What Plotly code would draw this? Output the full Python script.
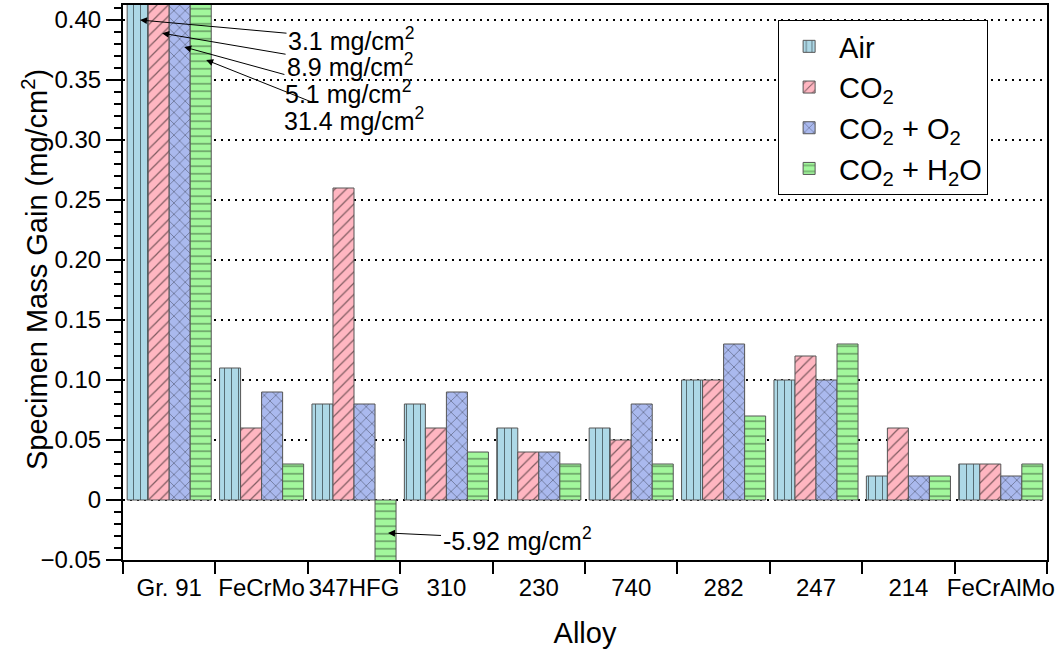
import plotly.graph_objects as go

alloys = ["Gr. 91", "FeCrMo", "347HFG", "310", "230", "740", "282", "247", "214", "FeCrAlMo"]
air = [3.1, 0.11, 0.08, 0.08, 0.06, 0.06, 0.10, 0.10, 0.02, 0.03]
co2 = [8.9, 0.06, 0.26, 0.06, 0.04, 0.05, 0.10, 0.12, 0.06, 0.03]
co2_o2 = [5.1, 0.09, 0.08, 0.09, 0.04, 0.08, 0.13, 0.10, 0.02, 0.02]
co2_h2o = [31.4, 0.03, -5.92, 0.04, 0.03, 0.03, 0.07, 0.13, 0.02, 0.03]

series_names = ["Air", "CO<sub>2</sub>", "CO<sub>2</sub> + O<sub>2</sub>", "CO<sub>2</sub> + H<sub>2</sub>O"]
series_values = [air, co2, co2_o2, co2_h2o]
colors = ["#add8e6", "#ffb6c1", "#aab9ee", "#a2f79c"]
patterns = ["|", "/", "x", "-"]
psizes = [7, 8, 8, 7.5]

y_ticks = [-0.05, 0, 0.05, 0.10, 0.15, 0.20, 0.25, 0.30, 0.35, 0.40]
y_ticktext = ["\u22120.05", "0", "0.05", "0.10", "0.15", "0.20", "0.25", "0.30", "0.35", "0.40"]

FONT = "Liberation Sans, Arial, Helvetica, sans-serif"

fig = go.Figure()
for name, vals, c, p, s in zip(series_names, series_values, colors, patterns, psizes):
    fig.add_trace(go.Bar(
        x=alloys, y=vals, name=name,
        marker=dict(color=c, line=dict(color="#555555", width=1),
                    pattern=dict(shape=p, fgcolor="black", size=s, solidity=0.15, fillmode="overlay")),
    ))

# annotations: (category index offset, y at arrow head, label, ax, ay)
labels = [
    (-0.316, 0.400, "3.1 mg/cm<sup>2</sup>", 211, 19),
    (-0.077, 0.389, "8.9 mg/cm<sup>2</sup>", 188, 32),
    (0.162, 0.3775, "5.1 mg/cm<sup>2</sup>", 164, 45),
    (0.400, 0.3667, "31.4 mg/cm<sup>2</sup>", 148, 59),
    (2.368, -0.0275, "-5.92 mg/cm<sup>2</sup>", 129, 6),
]
for xi, yi, txt, ax, ay in labels:
    fig.add_annotation(x=xi, y=yi, xref="x", yref="y", text=txt, showarrow=True,
                       ax=ax, ay=ay, arrowhead=2, arrowsize=1.4, arrowwidth=1,
                       arrowcolor="black", font=dict(size=25, color="black", family=FONT))

# y-axis title placed as rotated text
fig.add_annotation(text="Specimen Mass Gain (mg/cm<sup>2</sup>)", xref="paper", yref="paper",
                   x=-0.0952, y=0.5225, xanchor="center", yanchor="middle", textangle=-90,
                   showarrow=False, font=dict(size=29, color="black", family=FONT))

fig.update_layout(
    width=1058, height=649,
    margin=dict(l=123, r=11, t=5, b=89),
    paper_bgcolor="white", plot_bgcolor="white",
    barmode="group", bargap=0.09, bargroupgap=0,
    font=dict(family=FONT, color="black", size=24),
    legend=dict(x=0.709, y=0.973, xanchor="left", yanchor="top",
                bordercolor="black", borderwidth=1, bgcolor="white",
                font=dict(size=29, family=FONT), tracegroupgap=0, itemwidth=50),
    showlegend=True,
)
fig.update_xaxes(
    type="category", showline=True, mirror=True, linecolor="black", linewidth=2,
    ticks="outside", tickson="boundaries", ticklen=12, tickwidth=2, tickcolor="black",
    tickfont=dict(size=24), tickangle=0, ticklabelstandoff=5, showgrid=False, automargin=False,
    title=dict(text="Alloy", font=dict(size=29), standoff=26),
)
fig.update_yaxes(
    range=[-0.05, 0.4125], showline=True, mirror=True, linecolor="black", linewidth=2,
    tickvals=y_ticks, ticktext=y_ticktext, ticks="outside", ticklen=15, tickwidth=2,
    tickcolor="black", tickfont=dict(size=24), automargin=False,
    minor=dict(dtick=0.01, tick0=0, ticks="outside", ticklen=7, tickwidth=2, tickcolor="black", showgrid=False),
    showgrid=True, gridcolor="black", gridwidth=2, griddash="2px,5px", zeroline=False,
)

fig.write_html("out.html", config={"displayModeBar": False},
               post_script="document.body.style.margin='0';document.body.style.overflow='hidden';")
